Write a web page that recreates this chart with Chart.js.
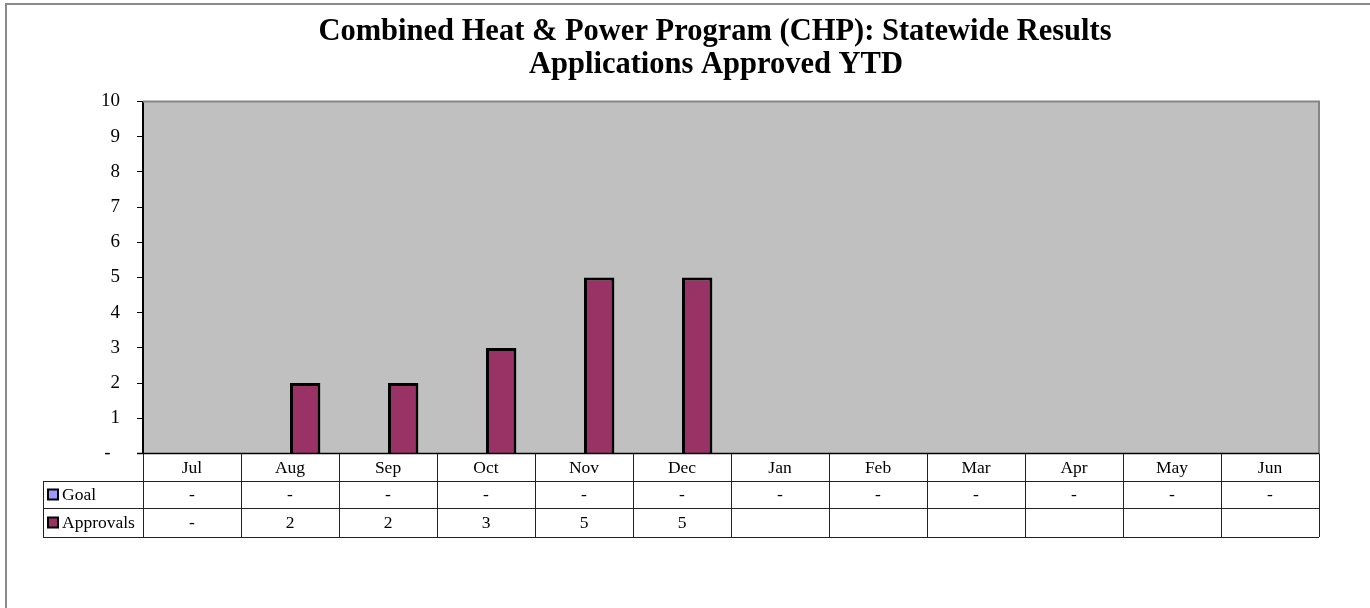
<!DOCTYPE html>
<html>
<head>
<meta charset="utf-8">
<script src="https://cdn.jsdelivr.net/npm/chart.js@4"></script>
<style>
html,body{margin:0;padding:0;background:#fff;}
#wrap{width:1370px;height:608px;position:relative;}
</style>
</head>
<body>
<div id="wrap"><canvas id="c" width="1370" height="608"></canvas></div>
<script>
const months = ['Jul','Aug','Sep','Oct','Nov','Dec','Jan','Feb','Mar','Apr','May','Jun'];
const goal = [0,0,0,0,0,0,0,0,0,0,0,0];
const approvals = [0,2,2,3,5,5,null,null,null,null,null,null];
const yTickLabels = ['-  ','1','2','3','4','5','6','7','8','9','10'];
const titleLines = ['Combined Heat & Power Program (CHP): Statewide Results','Applications Approved YTD'];
const seriesNames = ['Goal','Approvals'];
const seriesColors = ['#9999FF','#993366'];

const FONT = "'Liberation Serif', 'Times New Roman', serif";

function fmt(v){ if(v===null||v===undefined) return ''; if(v===0) return '-'; return String(v); }

const tablePlugin = {
  id: 'tbl',
  beforeDraw(chart){
    const {ctx, chartArea:a} = chart;
    ctx.save();
    ctx.fillStyle = '#fff';
    ctx.fillRect(0,0,chart.width,chart.height);
    ctx.fillStyle = '#C0C0C0';
    ctx.fillRect(a.left, a.top, a.right-a.left, a.bottom-a.top);
    ctx.restore();
  },
  afterDraw(chart){
    const {ctx, chartArea:a} = chart;
    const n = months.length;
    const w = (a.right - a.left)/n;
    ctx.save();
    // title
    ctx.fillStyle = '#000';
    ctx.font = "bold 30.5px " + FONT;
    ctx.textAlign = 'center';
    ctx.textBaseline = 'alphabetic';
    ctx.fillText(titleLines[0], 715, 39.5);
    ctx.fillText(titleLines[1], 716, 73);

    // plot border top/right
    ctx.strokeStyle = '#858585';
    ctx.lineWidth = 2;
    ctx.beginPath();
    ctx.moveTo(a.left, a.top); ctx.lineTo(a.right, a.top); ctx.lineTo(a.right, a.bottom);
    ctx.stroke();
    // bottom axis line
    ctx.strokeStyle = '#000';
    ctx.lineWidth = 1.5;
    ctx.beginPath();
    ctx.moveTo(a.left - 6, a.bottom); ctx.lineTo(a.right, a.bottom);
    ctx.stroke();

    // table
    const r0 = a.bottom, r1 = 481, r2 = 508, r3 = 537;
    const tLeft = 43;
    ctx.strokeStyle = '#222';
    ctx.lineWidth = 1;
    ctx.beginPath();
    for(let i=0;i<=n;i++){
      const x = Math.round(a.left + i*w) + 0.5;
      ctx.moveTo(x, r0); ctx.lineTo(x, r3);
    }
    [r1,r2,r3].forEach(y=>{ ctx.moveTo(tLeft, y+0.5); ctx.lineTo(a.right, y+0.5); });
    ctx.moveTo(tLeft+0.5, r1); ctx.lineTo(tLeft+0.5, r3);
    ctx.stroke();

    ctx.fillStyle = '#000';
    ctx.font = "17.5px " + FONT;
    ctx.textBaseline = 'middle';
    ctx.textAlign = 'center';
    const xs = chart.scales.x;
    const rows = [goal, approvals];
    const rowCenters = [(r1+r2)/2+1, (r2+r3)/2+1];
    for(let i=0;i<n;i++){
      const cx = xs.getPixelForValue(i);
      ctx.fillText(months[i], cx, (r0+r1)/2+1);
      rows.forEach((arr,k)=>{ ctx.fillText(fmt(arr[i]), cx, rowCenters[k]); });
    }
    // row legends
    ctx.textAlign = 'left';
    seriesNames.forEach((nm,k)=>{
      const cy = rowCenters[k];
      ctx.fillStyle = seriesColors[k];
      ctx.fillRect(48, cy-6, 10, 10);
      ctx.strokeStyle = '#000';
      ctx.lineWidth = 2;
      ctx.strokeRect(48, cy-6, 10, 10);
      ctx.fillStyle = '#000';
      ctx.fillText(nm, 62, cy);
    });

    // outer border
    ctx.strokeStyle = '#8a8a8a';
    ctx.lineWidth = 2;
    ctx.strokeRect(6, 4, 1400, 700);
    ctx.restore();
  }
};

new Chart(document.getElementById('c'), {
  type: 'bar',
  data: {
    labels: months,
    datasets: [
      { label: seriesNames[0], data: goal, backgroundColor: seriesColors[0], borderColor: '#000', borderWidth: 2, borderSkipped: false },
      { label: seriesNames[1], data: approvals, backgroundColor: seriesColors[1], borderColor: '#000', borderWidth: 3, borderSkipped: 'bottom' }
    ]
  },
  options: {
    responsive: false,
    animation: false,
    events: [],
    datasets: { bar: { categoryPercentage: 0.62, barPercentage: 1.0 } },
    layout: { padding: { left: 80, right: 51, top: 101.5, bottom: 154.5 } },
    plugins: {
      legend: { display: false },
      tooltip: { enabled: false },
      title: { display: false }
    },
    scales: {
      x: { display: false, offset: true, grid: { offset: true } },
      y: {
        min: 0, max: 10,
        afterFit(scale){ scale.width = 63; },
        ticks: {
          stepSize: 1,
          padding: 17,
          color: '#000',
          font: { family: FONT, size: 19 },
          callback: (v) => yTickLabels[v]
        },
        grid: { drawOnChartArea: false, drawTicks: true, tickLength: 6, color: '#000', lineWidth: 1 },
        border: { display: true, color: '#000', width: 2 }
      }
    }
  },
  plugins: [tablePlugin]
});
</script>
</body>
</html>
